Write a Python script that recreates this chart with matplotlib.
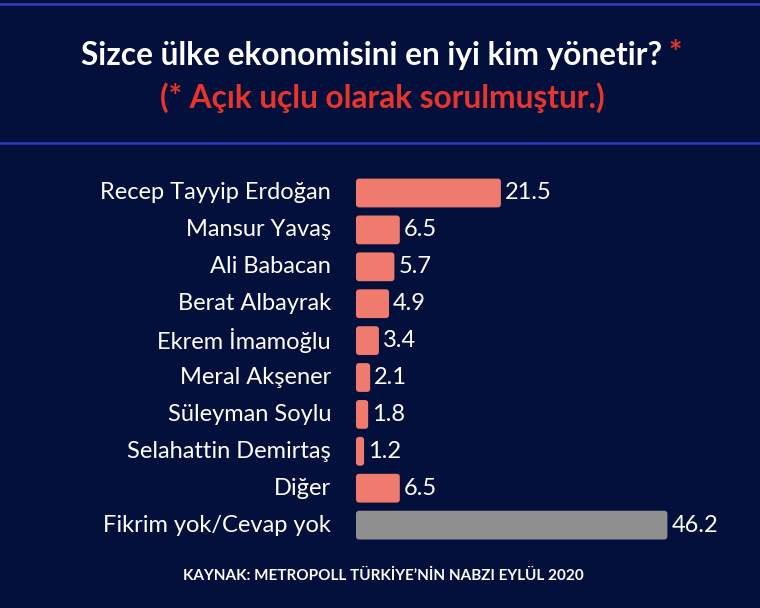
import matplotlib
matplotlib.use("Agg")
import matplotlib.pyplot as plt
from matplotlib.patches import FancyBboxPatch
from matplotlib.lines import Line2D

categories = ["Recep Tayyip Erdoğan", "Mansur Yavaş", "Ali Babacan", "Berat Albayrak",
              "Ekrem İmamoğlu", "Meral Akşener", "Süleyman Soylu", "Selahattin Demirtaş",
              "Diğer", "Fikrim yok/Cevap yok"]
values = [21.5, 6.5, 5.7, 4.9, 3.4, 2.1, 1.8, 1.2, 6.5, 46.2]
value_labels = ["21.5", "6.5", "5.7", "4.9", "3.4", "2.1", "1.8", "1.2", "6.5", "46.2"]
title = "Sizce ülke ekonomisini en iyi kim yönetir?"
subtitle = "(* Açık uçlu olarak sorulmuştur.)"
source = "KAYNAK: METROPOLL TÜRKİYE’NİN NABZI EYLÜL 2020"

BG = "#04103c"
SALMON = "#ef7a6d"
GRAY = "#8f8f8f"
RED = "#e8352b"
LINE = "#2b3fc4"
FONT = ["Lato", "DejaVu Sans"]

W, H = 760, 608
fig = plt.figure(figsize=(W/100, H/100), dpi=100, facecolor=BG)

# separator lines
for yp in (4, 143):
    fig.add_artist(Line2D([0, 1], [1 - yp/H, 1 - yp/H], color=LINE, lw=1.8,
                          transform=fig.transFigure))

# title (white part + red star), centred as a whole
TS = 22.8
tt = fig.text(0, 1 - 55/H, title, color="white", fontsize=TS, fontweight="bold",
              family=FONT, ha="left", va="center")
st = fig.text(0, 1 - 55/H, "*", color=RED, fontsize=TS, fontweight="bold",
              family=FONT, ha="left", va="center")
fig.canvas.draw()
w1 = tt.get_window_extent().width
w2 = st.get_window_extent().width
gap = 7
total = w1 + gap + w2
x0 = 381.5 - total / 2
tt.set_x(x0 / W)
st.set_x((x0 + w1 + gap) / W)

fig.text(382.5 / W, 1 - 98/H, subtitle, color=RED, fontsize=TS, fontweight="bold",
         family=FONT, ha="center", va="center")

fig.text(383 / W, 1 - 576/H, source, color="white", fontsize=11, fontweight="bold",
         family=FONT, ha="center", va="center")

# axes
ax_left = 356 / W
ax_width = 384 / W
pitch = 36.9
top_px = 193 - pitch/2
bottom_px = top_px + pitch * len(categories)
ax = fig.add_axes([ax_left, 1 - bottom_px/H, ax_width, (bottom_px - top_px)/H])
ax.set_facecolor(BG)
ax.set_xlim(0, 384 / 6.74)
ax.set_ylim(len(categories) - 0.5, -0.5)
for s in ax.spines.values():
    s.set_visible(False)
ax.set_xticks([])
ax.set_yticks([])

colors = [SALMON] * (len(values) - 1) + [GRAY]
bars = ax.barh(range(len(values)), values, height=0.78, color=colors)

# rounded bars
xu = 6.74
yu = pitch
for b, c in zip(bars, colors):
    x, y, w, h = b.get_x(), b.get_y(), b.get_width(), b.get_height()
    b.set_visible(False)
    r = 3 / xu
    p = FancyBboxPatch((x, y), w, h, boxstyle=f"round,pad=0,rounding_size={r}",
                       mutation_aspect=xu / yu, facecolor=c, edgecolor="none")
    ax.add_patch(p)

for i, (v, lab) in enumerate(zip(values, value_labels)):
    ax.text(v + 4 / xu, i, lab, color="white", fontsize=17, family=FONT,
            ha="left", va="center")
for i, cat in enumerate(categories):
    ax.text(-25 / xu, i, cat, color="white", fontsize=17, family=FONT,
            ha="right", va="center", clip_on=False)

fig.savefig("out.png", dpi=100, facecolor=BG)
